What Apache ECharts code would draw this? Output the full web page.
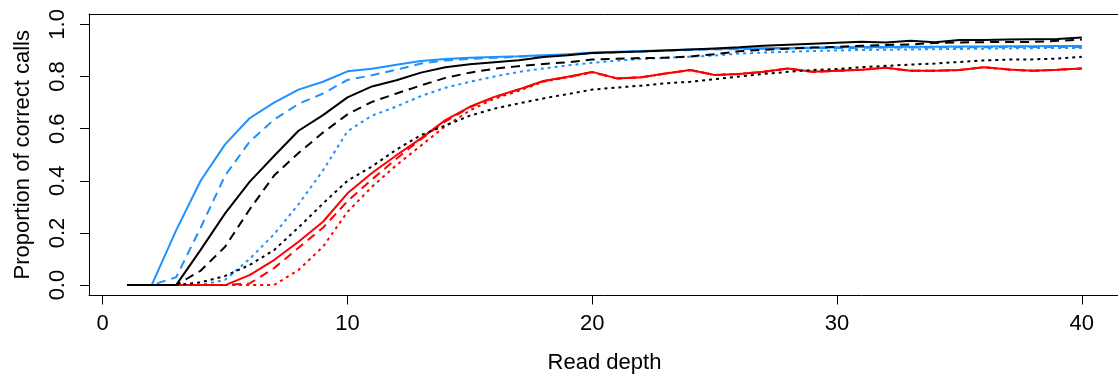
<!DOCTYPE html>
<html>
<head>
<meta charset="utf-8">
<script src="https://cdn.jsdelivr.net/npm/echarts@6/dist/echarts.min.js"></script>
<style>
  html, body { margin: 0; padding: 0; background: #fff; }
  #main { width: 1118px; height: 376px; }
</style>
</head>
<body>
<div id="main"></div>
<script>
// read depth 1..40
var depth = [1,2,3,4,5,6,7,8,9,10,11,12,13,14,15,16,17,18,19,20,
             21,22,23,24,25,26,27,28,29,30,31,32,33,34,35,36,37,38,39,40];

var blueSolid = [0,0,0.21,0.40,0.54,0.64,0.70,0.75,0.78,0.82,0.83,0.845,0.86,0.867,0.872,0.875,0.878,0.882,0.886,0.892,
                 0.895,0.898,0.901,0.904,0.906,0.908,0.909,0.910,0.911,0.912,0.913,0.913,0.914,0.914,0.915,0.915,0.916,0.916,0.917,0.917];
var blueDashed = [0,0,0.03,0.22,0.42,0.55,0.635,0.695,0.735,0.787,0.805,0.826,0.85,0.862,0.868,0.872,0.876,0.88,0.884,0.889,
                  0.893,0.896,0.899,0.902,0.904,0.906,0.907,0.908,0.909,0.910,0.910,0.911,0.911,0.912,0.912,0.912,0.913,0.913,0.913,0.913];
var blueDotted = [0,0,0,0,0.02,0.10,0.195,0.31,0.44,0.59,0.65,0.685,0.725,0.757,0.78,0.80,0.818,0.831,0.843,0.853,
                  0.861,0.867,0.872,0.876,0.881,0.888,0.892,0.895,0.898,0.900,0.902,0.903,0.904,0.905,0.906,0.907,0.908,0.909,0.910,0.910];

var blackSolid = [0,0,0,0.135,0.275,0.396,0.495,0.592,0.652,0.72,0.762,0.786,0.815,0.836,0.847,0.855,0.863,0.875,0.882,0.89,
                  0.893,0.896,0.90,0.904,0.908,0.912,0.918,0.922,0.926,0.93,0.934,0.931,0.937,0.932,0.94,0.94,0.942,0.943,0.944,0.95];
var blackDashed = [0,0,0,0.055,0.147,0.29,0.42,0.507,0.585,0.655,0.703,0.735,0.766,0.795,0.815,0.83,0.84,0.848,0.855,0.865,
                   0.868,0.871,0.872,0.877,0.886,0.897,0.903,0.907,0.911,0.914,0.918,0.921,0.923,0.929,0.931,0.932,0.933,0.933,0.937,0.942];
var blackDotted = [0,0,0,0.01,0.035,0.077,0.134,0.221,0.313,0.40,0.455,0.52,0.575,0.612,0.65,0.677,0.697,0.716,0.733,0.75,
                   0.758,0.765,0.774,0.78,0.79,0.80,0.81,0.818,0.825,0.829,0.836,0.841,0.846,0.85,0.856,0.862,0.865,0.866,0.869,0.876];

var redSolid = [0,0,0,0,0,0.038,0.096,0.166,0.243,0.352,0.43,0.498,0.563,0.633,0.684,0.722,0.751,0.783,0.799,0.818,
                0.793,0.797,0.812,0.825,0.806,0.81,0.818,0.831,0.818,0.822,0.826,0.834,0.822,0.822,0.825,0.836,0.827,0.822,0.826,0.831];
var redDashed = [0,0,0,0,0,0.006,0.065,0.143,0.22,0.322,0.405,0.485,0.56,0.628,0.682,0.72,0.75,0.782,0.798,0.817,
                 0.793,0.797,0.812,0.825,0.806,0.81,0.818,0.831,0.818,0.822,0.826,0.834,0.822,0.822,0.825,0.836,0.827,0.822,0.826,0.831];
var redDotted = [0,0,0,0,0,0,0,0.058,0.147,0.281,0.377,0.46,0.535,0.61,0.67,0.715,0.745,0.78,0.797,0.816,
                 0.793,0.797,0.812,0.825,0.806,0.81,0.818,0.831,0.818,0.822,0.826,0.834,0.822,0.822,0.825,0.836,0.827,0.822,0.826,0.831];

var xTicks = [0, 10, 20, 30, 40];
var yTicks = [0, 0.2, 0.4, 0.6, 0.8, 1.0];

var BLUE = '#1E90FF', BLACK = '#000000', RED = '#FF0000';
var DASH = [9, 6], DOT = [3, 4];
var FONT = 'Liberation Sans';

function pairs(vals) {
    return depth.map(function (d, i) { return [d, vals[i]]; });
}
function line(vals, color, type) {
    return {
        type: 'line',
        data: pairs(vals),
        showSymbol: false,
        symbol: 'none',
        lineStyle: { color: color, width: 2, type: type },
        z: 3
    };
}

// box edges (the right edge falls outside the canvas, as in the original)
var frame = { show: true, onZero: false, lineStyle: { color: '#000', width: 1 } };

var myChart = echarts.init(document.getElementById('main'));
var option = {
    animation: false,
    grid: {
        left: 89, top: 14, width: 1031, height: 281.5,
        containLabel: false, outerBoundsMode: 'none', show: false
    },
    xAxis: [{
        type: 'value', min: -0.56, max: 41.56,
        name: 'Read depth', nameLocation: 'middle', nameGap: 56,
        nameTextStyle: { fontFamily: FONT, fontSize: 22, color: '#000' },
        axisLine: frame,
        splitLine: { show: false },
        axisTick: { show: true, inside: false, length: 9, customValues: xTicks, lineStyle: { color: '#000' } },
        axisLabel: { customValues: xTicks, margin: 17, fontFamily: FONT, fontSize: 22, color: '#000' }
    }, {
        type: 'value', position: 'top', min: -0.56, max: 41.56,
        axisLine: frame,
        axisTick: { show: false },
        axisLabel: { show: false },
        splitLine: { show: false }
    }],
    yAxis: {
        type: 'value', min: -0.04, max: 1.04,
        name: 'Proportion of correct calls', nameLocation: 'middle', nameGap: 55, nameRotate: 90,
        nameTextStyle: { fontFamily: FONT, fontSize: 22, color: '#000' },
        axisLine: frame,
        splitLine: { show: false },
        axisTick: { show: true, inside: false, length: 9, customValues: yTicks, lineStyle: { color: '#000' } },
        axisLabel: {
            customValues: yTicks, rotate: 90, margin: 20,
            fontFamily: FONT, fontSize: 22, color: '#000',
            formatter: function (v) { return v.toFixed(1); }
        }
    },
    series: [
        line(blueSolid, BLUE, 'solid'),
        line(blueDashed, BLUE, DASH),
        line(blueDotted, BLUE, DOT),
        line(redSolid, RED, 'solid'),
        line(redDashed, RED, DASH),
        line(redDotted, RED, DOT),
        line(blackSolid, BLACK, 'solid'),
        line(blackDashed, BLACK, DASH),
        line(blackDotted, BLACK, DOT)
    ]
};
myChart.setOption(option);
</script>
</body>
</html>
